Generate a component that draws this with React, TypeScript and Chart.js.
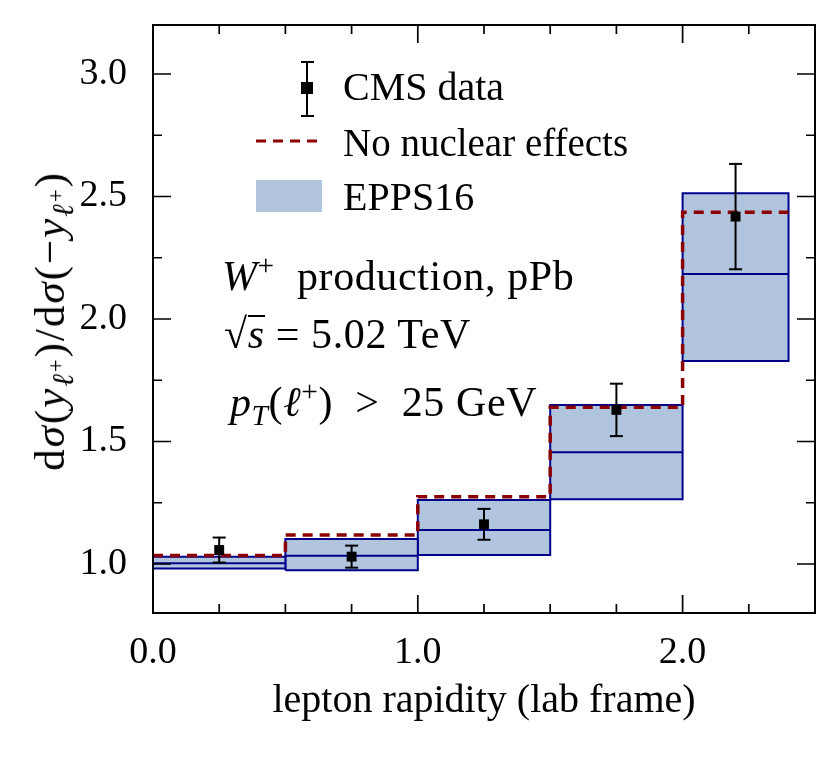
import React, { useEffect, useRef } from 'react';
import { Chart, registerables } from 'chart.js';

Chart.register(...registerables);

// ---- data ----
const binEdges = [0, 0.5, 1.0, 1.5, 2.0, 2.4];
const eppsLow = [0.982, 0.975, 1.037, 1.264, 1.829];
const eppsCentral = [1.003, 1.034, 1.139, 1.456, 2.184];
const eppsHigh = [1.030, 1.102, 1.261, 1.649, 2.513];
const noNuclear = [1.035, 1.118, 1.275, 1.640, 2.436];

const cmsX = [0.25, 0.75, 1.25, 1.75, 2.2];
const cmsY = [1.057, 1.030, 1.162, 1.629, 2.418];
const cmsErr = [0.051, 0.045, 0.063, 0.107, 0.215];

const xTickLabels = [0, 1, 2];
const xMinorTicks = [0.25, 0.5, 0.75, 1.25, 1.5, 1.75, 2.25];
const yTickLabels = [1.0, 1.5, 2.0, 2.5, 3.0];
const yMinorTicks = [1.25, 1.75, 2.25, 2.75];

const NAVY = '#00008B';
const BAND = '#B0C4DE';
const RED = '#8B0000';
const FONT = '"Liberation Serif", "Times New Roman", serif';

const frameTicks = {
  id: 'frameTicks',
  afterDatasetsDraw(chart: any) {
    const { ctx, chartArea: a, scales } = chart;
    const x = scales.x;
    const y = scales.y;
    ctx.save();
    ctx.strokeStyle = '#000';
    ctx.lineWidth = 1.7;
    ctx.beginPath();
    const tick = (px: number, len: number, horiz: boolean) => {
      if (horiz) {
        ctx.moveTo(px, a.bottom);
        ctx.lineTo(px, a.bottom - len);
        ctx.moveTo(px, a.top);
        ctx.lineTo(px, a.top + len);
      } else {
        ctx.moveTo(a.left, px);
        ctx.lineTo(a.left + len, px);
        ctx.moveTo(a.right, px);
        ctx.lineTo(a.right - len, px);
      }
    };
    xTickLabels.forEach((v) => tick(x.getPixelForValue(v), 18, true));
    xMinorTicks.forEach((v) => tick(x.getPixelForValue(v), 9, true));
    yTickLabels.forEach((v) => tick(y.getPixelForValue(v), 18, false));
    yMinorTicks.forEach((v) => tick(y.getPixelForValue(v), 9, false));
    ctx.stroke();
    ctx.lineWidth = 2;
    ctx.strokeRect(a.left, a.top, a.right - a.left, a.bottom - a.top);
    ctx.restore();
  },
};

const sup: React.CSSProperties = { position: 'relative', top: '-0.5em', fontSize: '0.7em' };
const sub: React.CSSProperties = { position: 'relative', top: '0.3em', fontSize: '0.7em' };

function Txt(props: { left: number; baseline: number; size: number; spacing?: number; children: React.ReactNode }) {
  const { left, baseline, size, spacing, children } = props;
  return (
    <div
      style={{
        position: 'absolute',
        left,
        top: baseline - 0.8375 * size,
        fontSize: size,
        lineHeight: `${size}px`,
        whiteSpace: 'pre',
        fontFamily: FONT,
        color: '#000',
        letterSpacing: spacing ? `${spacing}px` : undefined,
      }}
    >
      {children}
    </div>
  );
}

export default function App() {
  const ref = useRef<HTMLCanvasElement>(null);

  useEffect(() => {
    document.body.style.margin = '0';
    const bandSets = binEdges.slice(0, -1).map((x0, i) => {
      const x1 = binEdges[i + 1];
      return {
        label: 'EPPS16',
        data: [
          { x: x0, y: eppsLow[i] },
          { x: x0, y: eppsHigh[i] },
          { x: x1, y: eppsHigh[i] },
          { x: x1, y: eppsLow[i] },
          { x: x0, y: eppsLow[i] },
        ],
        borderColor: NAVY,
        borderWidth: 2,
        backgroundColor: BAND,
        fill: 'shape',
        pointRadius: 0,
        borderJoinStyle: 'miter',
        order: 10 + i,
      };
    });
    const centralData: any[] = [];
    eppsCentral.forEach((c, i) => {
      centralData.push({ x: binEdges[i], y: c }, { x: binEdges[i + 1], y: c }, { x: binEdges[i + 1], y: null });
    });
    const errData: any[] = [];
    cmsX.forEach((xv, i) => {
      errData.push({ x: xv, y: cmsY[i] - cmsErr[i] }, { x: xv, y: cmsY[i] + cmsErr[i] }, { x: xv, y: null });
    });
    const chart = new Chart(ref.current as HTMLCanvasElement, {
      type: 'line',
      data: {
        datasets: [
          {
            label: 'CMS data',
            data: cmsX.map((xv, i) => ({ x: xv, y: cmsY[i] })),
            showLine: false,
            pointStyle: 'rect',
            pointRadius: 7,
            pointBorderWidth: 0,
            pointBackgroundColor: '#000',
            pointBorderColor: '#000',
            order: 0,
          },
          {
            label: 'CMS errors',
            data: errData,
            showLine: true,
            spanGaps: false,
            borderColor: '#000',
            borderWidth: 2,
            pointStyle: 'line',
            pointRadius: 6.5,
            pointBorderWidth: 2,
            pointBorderColor: '#000',
            order: 1,
          },
          {
            label: 'No nuclear effects',
            data: binEdges.map((xv, i) => ({ x: xv, y: noNuclear[Math.min(i, noNuclear.length - 1)] })),
            stepped: 'before',
            borderColor: RED,
            borderWidth: 3.5,
            borderDash: [10, 7],
            pointRadius: 0,
            fill: false,
            order: 2,
          },
          {
            label: 'EPPS16 central',
            data: centralData,
            spanGaps: false,
            borderColor: NAVY,
            borderWidth: 2,
            pointRadius: 0,
            fill: false,
            order: 3,
          },
          ...bandSets,
        ] as any,
      },
      options: {
        responsive: false,
        devicePixelRatio: 1,
        animation: false,
        events: [],
        layout: { padding: { left: 0, top: 25, right: 16, bottom: 0 } },
        plugins: {
          legend: { display: false },
          tooltip: { enabled: false },
        },
        scales: {
          x: {
            type: 'linear',
            min: 0,
            max: 2.5,
            grid: { display: false, drawTicks: false },
            border: { display: false },
            afterBuildTicks: (s: any) => {
              s.ticks = xTickLabels.map((v) => ({ value: v }));
            },
            afterFit: (s: any) => {
              s.height = 149;
              s.paddingLeft = 0;
              s.paddingRight = 0;
              s.paddingTop = 0;
              s.paddingBottom = 0;
            },
            ticks: {
              autoSkip: false,
              maxRotation: 0,
              padding: 17,
              color: '#000',
              font: { family: FONT, size: 38 },
              callback: (v: any) => Number(v).toFixed(1),
            },
            title: {
              display: true,
              text: 'lepton rapidity (lab frame)',
              color: '#000',
              font: { family: FONT, size: 40 },
              padding: { top: 0, bottom: 37 },
            },
          },
          y: {
            type: 'linear',
            min: 0.8,
            max: 3.2,
            grid: { display: false, drawTicks: false },
            border: { display: false },
            afterBuildTicks: (s: any) => {
              s.ticks = yTickLabels.map((v) => ({ value: v }));
            },
            afterFit: (s: any) => {
              s.width = 153;
              s.paddingLeft = 0;
              s.paddingRight = 0;
              s.paddingTop = 0;
              s.paddingBottom = 0;
            },
            ticks: {
              autoSkip: false,
              padding: 26,
              color: '#000',
              font: { family: FONT, size: 38 },
              callback: (v: any) => Number(v).toFixed(1),
            },
          },
        },
      } as any,
      plugins: [frameTicks],
    });
    return () => chart.destroy();
  }, []);

  const lsup: React.CSSProperties = { position: 'relative', top: '-0.45em', fontSize: '0.75em' };

  return (
    <div style={{ position: 'relative', width: 831, height: 762, overflow: 'hidden', background: '#fff' }}>
      <canvas ref={ref} width={831} height={762} style={{ position: 'absolute', left: 0, top: 0 }} />

      {/* y-axis label */}
      <div
        style={{
          position: 'absolute',
          left: 53,
          top: 321,
          transform: 'translate(-50%, -50%) rotate(-90deg)',
          fontFamily: FONT,
          fontSize: 43,
          lineHeight: '43px',
          whiteSpace: 'nowrap',
          color: '#000',
          letterSpacing: '2px',
        }}
      >
        d<i>σ</i>(<i>y</i>
        <span style={sub}>
          <i>ℓ</i>
          <span style={lsup}>+</span>
        </span>
        )/d<i>σ</i>(−<i>y</i>
        <span style={sub}>
          <i>ℓ</i>
          <span style={lsup}>+</span>
        </span>
        )
      </div>

      {/* legend */}
      <div style={{ position: 'absolute', left: 306, top: 62, width: 2, height: 54, background: '#000' }} />
      <div style={{ position: 'absolute', left: 300.5, top: 61, width: 13, height: 2, background: '#000' }} />
      <div style={{ position: 'absolute', left: 300.5, top: 115, width: 13, height: 2, background: '#000' }} />
      <div style={{ position: 'absolute', left: 301, top: 82, width: 12, height: 12, background: '#000' }} />
      <Txt left={343} baseline={100} size={40}>CMS data</Txt>

      <svg style={{ position: 'absolute', left: 0, top: 0 }} width={831} height={762}>
        <line x1={256} y1={141} x2={322} y2={141} stroke={RED} strokeWidth={3} strokeDasharray="10 7" />
      </svg>
      <Txt left={343} baseline={156} size={39}>No nuclear effects</Txt>

      <div style={{ position: 'absolute', left: 256, top: 180, width: 66, height: 32, background: BAND }} />
      <Txt left={343} baseline={210} size={40}>EPPS16</Txt>

      {/* annotations */}
      <Txt left={222} baseline={290} size={42} spacing={0.6}>
        <i>W</i>
        <span style={sup}>+</span>
        {'  production, pPb'}
      </Txt>
      <Txt left={224} baseline={348} size={42} spacing={0.6}>
        √<span style={{ borderTop: '2px solid #000', display: 'inline-block', lineHeight: '34px' }}><i>s</i></span>
        {' = 5.02 TeV'}
      </Txt>
      <Txt left={230} baseline={416} size={42} spacing={0.6}>
        <i>p</i>
        <span style={sub}><i>T</i></span>(<i>ℓ</i>
        <span style={sup}>+</span>){'  >  25 GeV'}
      </Txt>
    </div>
  );
}
